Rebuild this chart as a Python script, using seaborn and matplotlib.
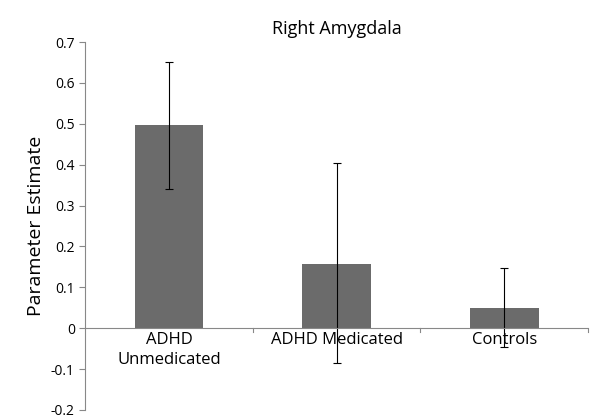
import matplotlib
matplotlib.use("Agg")
import matplotlib.pyplot as plt
import seaborn as sns
import pandas as pd

groups = ["ADHD\nUnmedicated", "ADHD Medicated", "Controls"]
estimates = [0.497, 0.157, 0.050]
err_low = [0.340, -0.085, -0.047]
err_high = [0.652, 0.405, 0.147]

df = pd.DataFrame({"group": groups, "estimate": estimates})

plt.rcParams["font.family"] = "Open Sans"
fig = plt.figure(figsize=(6, 4.2), dpi=100)
ax = fig.add_axes([0.142, 0.024, 0.838, 0.876])

sns.barplot(data=df, x="group", y="estimate", color="#6b6b6b", width=0.41,
            saturation=1, ax=ax, errorbar=None)
for i, (e, lo, hi) in enumerate(zip(estimates, err_low, err_high)):
    ax.errorbar(i, e, yerr=[[e - lo], [hi - e]], color="black", lw=0.8,
                capsize=3, capthick=0.8)

ax.set_ylim(-0.2, 0.7)
ax.set_xlim(-0.5, 2.5)
ax.set_yticks([i / 10 for i in range(-2, 8)])
ax.set_yticklabels(["-0.2", "-0.1", "0", "0.1", "0.2", "0.3", "0.4", "0.5", "0.6", "0.7"],
                   fontsize=10)
ax.tick_params(axis="y", length=4, color="#888888")
ax.set_xticks([])
ax.set_xlabel("")
ax.set_ylabel("Parameter Estimate", fontsize=14)
ax.set_title("Right Amygdala", fontsize=13)
for s in ["top", "right", "bottom"]:
    ax.spines[s].set_visible(False)
ax.spines["left"].set_color("#888888")
ax.axhline(0, color="#888888", lw=0.8)
for x in [0.5, 1.5, 2.5]:
    ax.plot([x, x], [0, -0.01], color="#888888", lw=0.8, clip_on=False)
for i, g in enumerate(groups):
    ax.text(i, -0.01, g, ha="center", va="top", fontsize=12, linespacing=1.3)

fig.savefig("out.png", dpi=100)
